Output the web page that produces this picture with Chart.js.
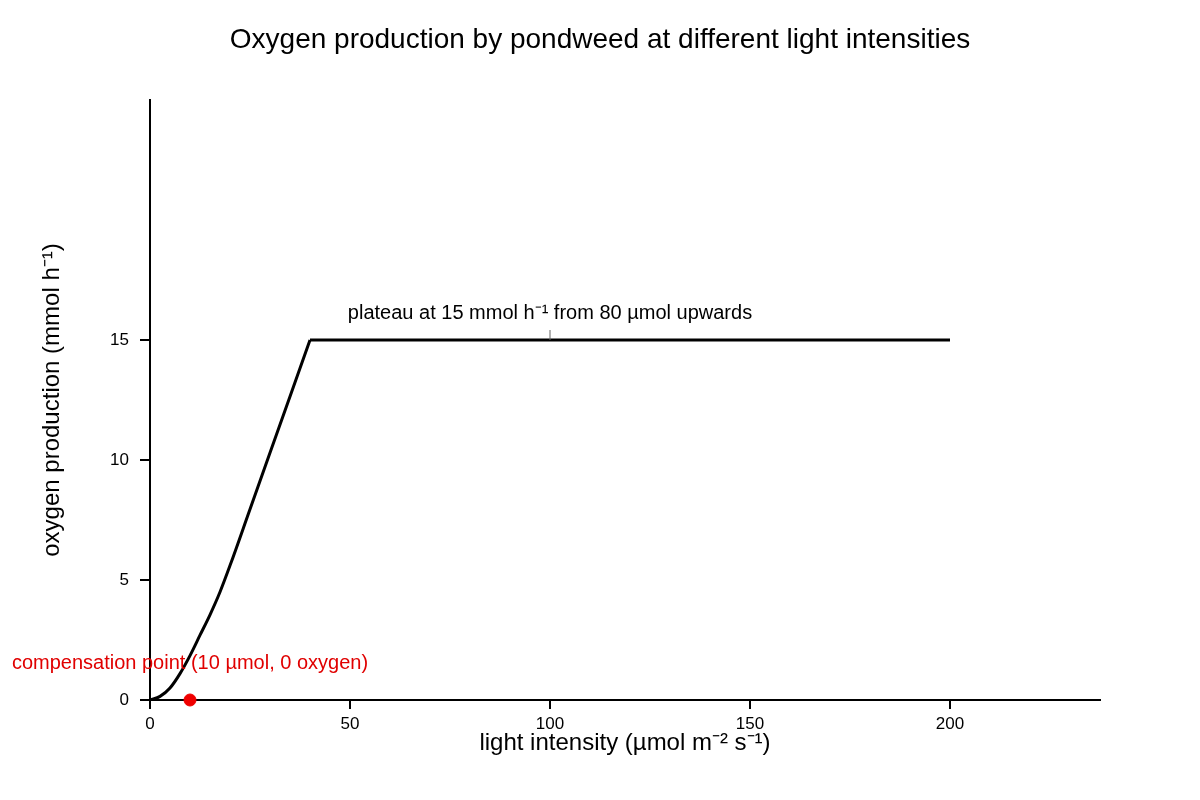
<!DOCTYPE html>
<html>
<head>
<meta charset="utf-8">
<script src="https://cdn.jsdelivr.net/npm/chart.js@4"></script>
<style>
  body { margin: 0; background: #fff; }
</style>
</head>
<body>
<canvas id="chart" width="1200" height="800"></canvas>
<script>
// rising part of the curve: light intensity (µmol m-2 s-1) vs oxygen production (mmol h-1)
var riseLight  = [0, 2.5, 5, 7.5, 10, 12.5, 15, 17.5, 20, 25, 30, 35, 40];
var riseOxygen = [0, 0.15, 0.5, 1.1, 1.85, 2.7, 3.55, 4.5, 5.6, 7.95, 10.3, 12.65, 15];

// plateau
var plateauLight  = [40, 200];
var plateauOxygen = [15, 15];

// compensation point
var compX = [10];
var compY = [0];

var xTicks = [0, 50, 100, 150, 200];
var yTicks = [0, 5, 10, 15];

var plateauLabel = 'plateau at 15 mmol h\u207B\u00B9 from 80 \u00B5mol upwards';
var plateauAt = { x: 100, y: 15 };
var compLabel = 'compensation point (10 \u00B5mol, 0 oxygen)';

var FONT = "'Liberation Sans', Arial, sans-serif";

function pairs(xs, ys) {
    return xs.map(function (x, i) { return { x: x, y: ys[i] }; });
}

// draws the two text notes next to the data
var notes = {
    id: 'notes',
    afterDatasetsDraw: function (chart) {
        var c = chart.ctx, xs = chart.scales.x, ys = chart.scales.y;
        c.save();
        var px = xs.getPixelForValue(plateauAt.x);
        var py = ys.getPixelForValue(plateauAt.y);
        c.strokeStyle = '#666';
        c.lineWidth = 1;
        c.beginPath();
        c.moveTo(px, py - 10);
        c.lineTo(px, py);
        c.stroke();
        c.font = '20px ' + FONT;
        c.fillStyle = '#000';
        c.textAlign = 'center';
        c.textBaseline = 'middle';
        c.fillText(plateauLabel, px, py - 27);

        var cx = xs.getPixelForValue(compX[0]);
        var cy = ys.getPixelForValue(compY[0]);
        c.fillStyle = '#e00000';
        c.fillText(compLabel, cx, cy - 37);
        c.restore();
    }
};

var ctx = document.getElementById('chart').getContext('2d');
var chart = new Chart(ctx, {
    type: 'line',
    data: {
        datasets: [{
            data: pairs(riseLight, riseOxygen),
            borderColor: '#000',
            borderWidth: 3,
            pointRadius: 0,
            cubicInterpolationMode: 'monotone',
            fill: false,
            order: 3
        }, {
            data: pairs(plateauLight, plateauOxygen),
            borderColor: '#000',
            borderWidth: 3,
            pointRadius: 0,
            tension: 0,
            fill: false,
            order: 2
        }, {
            type: 'scatter',
            data: pairs(compX, compY),
            backgroundColor: '#f00000',
            borderColor: '#f00000',
            pointRadius: 6,
            clip: false,
            order: 1
        }]
    },
    plugins: [notes],
    options: {
        responsive: false,
        devicePixelRatio: 1,
        animation: false,
        layout: { padding: 0 },
        plugins: {
            legend: { display: false },
            tooltip: { enabled: false },
            title: {
                display: true,
                text: 'Oxygen production by pondweed at different light intensities',
                color: '#000',
                font: { family: FONT, size: 28, weight: 'normal' },
                padding: { top: 23, bottom: 43.4 }
            }
        },
        scales: {
            x: {
                type: 'linear',
                min: 0,
                max: 237.5,
                afterFit: function (s) { s.height = 100; },
                afterBuildTicks: function (s) { s.ticks = xTicks.map(function (v) { return { value: v }; }); },
                grid: { drawOnChartArea: false, drawTicks: true, tickLength: 9, color: '#000', lineWidth: 2 },
                border: { display: true, color: '#000', width: 2 },
                ticks: { color: '#000', padding: 5, maxRotation: 0, font: { family: FONT, size: 17 } },
                title: {
                    display: true,
                    text: 'light intensity (\u00B5mol m\u207B\u00B2 s\u207B\u00B9)',
                    color: '#000',
                    font: { family: FONT, size: 24 },
                    padding: { top: 0, bottom: 42.6 }
                }
            },
            y: {
                type: 'linear',
                min: 0,
                max: 25,
                afterFit: function (s) { s.width = 150; },
                afterBuildTicks: function (s) { s.ticks = yTicks.map(function (v) { return { value: v }; }); },
                grid: { drawOnChartArea: false, drawTicks: true, tickLength: 10, color: '#000', lineWidth: 2 },
                border: { display: true, color: '#000', width: 2 },
                ticks: { color: '#000', padding: 11, font: { family: FONT, size: 17 } },
                title: {
                    display: true,
                    text: 'oxygen production (mmol h\u207B\u00B9)',
                    color: '#000',
                    font: { family: FONT, size: 24 },
                    padding: { top: 37.6, bottom: 0 }
                }
            },
            // empty right-hand strip so the plot ends at 1100px and the title stays centred
            yRight: {
                type: 'linear',
                position: 'right',
                min: 0,
                max: 25,
                afterFit: function (s) { s.width = 100; },
                grid: { display: false, drawTicks: false },
                border: { display: false },
                ticks: { display: false }
            }
        }
    }
});
</script>
</body>
</html>
